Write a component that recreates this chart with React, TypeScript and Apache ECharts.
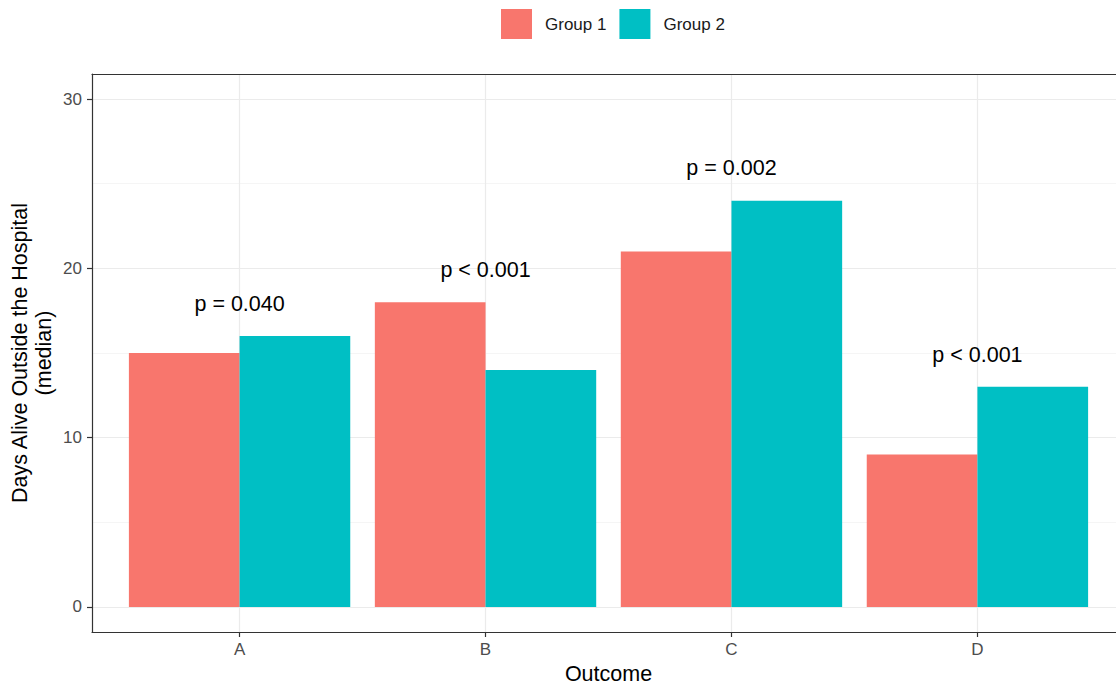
import React, { useEffect, useRef } from "react";
import * as echarts from "echarts";

const categories = ["A", "B", "C", "D"];
const categoryPositions = [1, 2, 3, 4];
const group1 = [15, 18, 21, 9];
const group2 = [16, 14, 24, 13];
const pLabels = ["p = 0.040", "p < 0.001", "p = 0.002", "p < 0.001"];
const pLabelY = [17.9, 19.9, 25.9, 14.9];
const yTicks = [0, 10, 20, 30];
const yMinorTicks = [5, 15, 25];

const FONT = "'Liberation Sans', Arial, sans-serif";
const BORDER = { color: "#333333", width: 1.2 };

export default function App() {
  const ref = useRef<HTMLDivElement>(null);
  useEffect(() => {
    if (!ref.current) return;
    const chart = echarts.init(ref.current, null, { renderer: "svg" });
    chart.setOption({
      animation: false,
      backgroundColor: "#ffffff",
      textStyle: { fontFamily: FONT },
      legend: {
        left: 501,
        top: 9,
        padding: 0,
        itemWidth: 31,
        itemHeight: 30,
        itemGap: 13,
        data: ["Group 1", "Group 2"],
        icon: "rect",
        textStyle: { fontSize: 17, color: "#1a1a1a", fontFamily: FONT, padding: [0, 0, 0, 8] },
      },
      grid: {
        left: 92,
        top: 74,
        width: 1033,
        height: 558,
        outerBoundsMode: "none",
        containLabel: false,
        show: false,
      },
      xAxis: [
        {
          type: "value",
          min: 0.4,
          max: 4.6,
          position: "bottom",
          name: "Outcome",
          nameLocation: "middle",
          nameGap: 30,
          nameTextStyle: { fontSize: 21.5, color: "#000", fontFamily: FONT },
          axisLine: { show: true, onZero: false, lineStyle: BORDER },
          axisTick: {
            show: true,
            length: 5,
            customValues: categoryPositions,
            lineStyle: BORDER,
          },
          axisLabel: {
            customValues: categoryPositions,
            fontSize: 17,
            color: "#4d4d4d",
            margin: 9,
            fontFamily: FONT,
            formatter: (v: number) => categories[Math.round(v) - 1] ?? "",
          },
          splitLine: { show: true, lineStyle: { color: "#EBEBEB", width: 1.2 } },
        },
        {
          type: "value",
          min: 0.4,
          max: 4.6,
          position: "top",
          axisLine: { show: true, onZero: false, lineStyle: BORDER },
          axisTick: { show: false },
          axisLabel: { show: false },
          splitLine: { show: false },
        },
      ],
      yAxis: [
        {
          type: "value",
          min: -1.48,
          max: 31.48,
          name: "Days Alive Outside the Hospital\n(median)",
          nameLocation: "middle",
          nameGap: 36,
          nameMoveOverlap: false,
          nameTextStyle: { fontSize: 21.5, color: "#000", fontFamily: FONT, lineHeight: 24, align: "center" },
          axisLine: { show: true, onZero: false, lineStyle: BORDER },
          axisTick: {
            show: true,
            length: 5,
            customValues: yTicks,
            lineStyle: BORDER,
          },
          axisLabel: {
            customValues: yTicks,
            fontSize: 17,
            color: "#4d4d4d",
            margin: 10,
            fontFamily: FONT,
          },
          splitLine: { show: true, lineStyle: { color: "#EBEBEB", width: 1.2 } },
          z: 1,
        },
        {
          type: "value",
          min: -1.48,
          max: 31.48,
          position: "left",
          axisLine: { show: false, onZero: false },
          axisTick: { show: false, customValues: yMinorTicks },
          axisLabel: { show: false, customValues: yMinorTicks },
          splitLine: { show: true, lineStyle: { color: "#F3F3F3", width: 0.8 } },
          z: 0,
        },
      ],
      series: [
        {
          name: "Group 1",
          type: "bar",
          data: categoryPositions.map((x, i) => [x, group1[i]]),
          itemStyle: { color: "#F8766D" },
          barGap: "0%",
          barCategoryGap: "10%",
        },
        {
          name: "Group 2",
          type: "bar",
          data: categoryPositions.map((x, i) => [x, group2[i]]),
          itemStyle: { color: "#00BFC4" },
          barGap: "0%",
          barCategoryGap: "10%",
        },
        {
          name: "labels",
          type: "scatter",
          symbolSize: 0,
          silent: true,
          itemStyle: { opacity: 1 },
          data: categoryPositions.map((x, i) => [x, pLabelY[i]]),
          label: {
            show: true,
            position: "inside",
            fontSize: 21.5,
            color: "#000000",
            opacity: 1,
            fontFamily: FONT,
            textBorderWidth: 0,
            formatter: (p: any) => pLabels[p.dataIndex],
          },
        },
      ],
    });
    return () => chart.dispose();
  }, []);
  return (
    <div
      ref={ref}
      style={{ position: "absolute", left: 0, top: 0, width: 1116, height: 690 }}
    />
  );
}
